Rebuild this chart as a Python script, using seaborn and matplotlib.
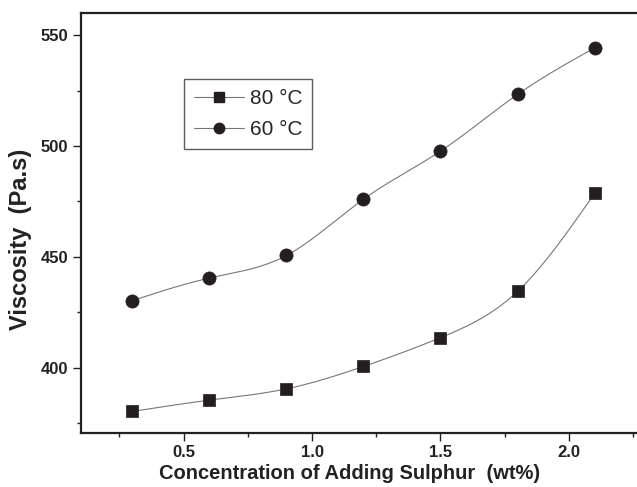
import numpy as np
import pandas as pd
import matplotlib
matplotlib.use("Agg")
import matplotlib.pyplot as plt
import seaborn as sns
from matplotlib.lines import Line2D
from matplotlib.ticker import MultipleLocator

# ---- data ----
conc = [0.3, 0.6, 0.9, 1.2, 1.5, 1.8, 2.1]
visc_80 = [380.2, 385.3, 390.4, 400.5, 413.5, 434.4, 478.6]
visc_60 = [430.2, 440.4, 450.6, 476.0, 497.7, 523.3, 544.3]
labels = ["80 °C", "60 °C"]

def natural_spline(x, y, xs):
    x = np.asarray(x, float); y = np.asarray(y, float)
    n = len(x)
    h = np.diff(x)
    A = np.zeros((n, n)); b = np.zeros(n)
    A[0, 0] = 1; A[-1, -1] = 1
    for i in range(1, n - 1):
        A[i, i - 1] = h[i - 1]
        A[i, i] = 2 * (h[i - 1] + h[i])
        A[i, i + 1] = h[i]
        b[i] = 3 * ((y[i + 1] - y[i]) / h[i] - (y[i] - y[i - 1]) / h[i - 1])
    c = np.linalg.solve(A, b)
    out = np.empty_like(xs)
    for k, xv in enumerate(xs):
        i = min(max(np.searchsorted(x, xv) - 1, 0), n - 2)
        dx = xv - x[i]
        bi = (y[i + 1] - y[i]) / h[i] - h[i] * (2 * c[i] + c[i + 1]) / 3
        di = (c[i + 1] - c[i]) / (3 * h[i])
        out[k] = y[i] + bi * dx + c[i] * dx ** 2 + di * dx ** 3
    return out

sns.set_style("ticks")
plt.rcParams["font.family"] = ["Liberation Sans", "DejaVu Sans"]

fig = plt.figure(figsize=(6.37, 4.87), dpi=100)
ax = fig.add_axes([0.127, 0.111, 0.879, 0.862])

mk_color = "#231f20"
line_color = "#777777"
xs = np.linspace(conc[0], conc[-1], 300)
for vals, mk, ms in [(visc_80, "s", 75), (visc_60, "o", 90)]:
    sns.lineplot(x=xs, y=natural_spline(conc, vals, xs), ax=ax,
                 color=line_color, lw=0.8, zorder=2)
    sns.scatterplot(x=conc, y=vals, ax=ax, marker=mk, s=ms,
                    color=mk_color, edgecolor=mk_color, linewidth=0.5, zorder=3)

ax.set_xlim(0.1, 2.28)
ax.set_ylim(370.5, 560)
ax.xaxis.set_major_locator(MultipleLocator(0.5))
ax.xaxis.set_minor_locator(MultipleLocator(0.25))
ax.yaxis.set_major_locator(MultipleLocator(50))
ax.yaxis.set_minor_locator(MultipleLocator(25))
ax.tick_params(which="major", length=6, width=1, direction="out",
               labelsize=12, color="#222222", pad=3)
ax.tick_params(which="minor", length=3, width=1, direction="out", color="#222222")
ax.tick_params(top=False, right=False, which="both")
for lab in ax.get_xticklabels() + ax.get_yticklabels():
    lab.set_fontweight("bold")
    lab.set_color("#222222")
for sp in ax.spines.values():
    sp.set_linewidth(1.6)
    sp.set_color("#222222")

ax.set_xlabel("Concentration of Adding Sulphur  (wt%)", fontsize=14.5,
              fontweight="bold", color="#222222")
ax.set_ylabel("Viscosity  (Pa.s)", fontsize=17, fontweight="bold",
              color="#222222")
ax.xaxis.set_label_coords(0.479, -0.075)
ax.yaxis.set_label_coords(-0.0875, 0.462)

handles = [
    Line2D([], [], color=line_color, lw=0.8, marker="s", markersize=7,
           markerfacecolor=mk_color, markeredgecolor=mk_color),
    Line2D([], [], color=line_color, lw=0.8, marker="o", markersize=7.5,
           markerfacecolor=mk_color, markeredgecolor=mk_color),
]
leg = ax.legend(handles, labels, loc="upper left",
                bbox_to_anchor=(0.1845, 0.842), fontsize=15,
                frameon=True, fancybox=False, edgecolor="#333333",
                handlelength=2.4, handletextpad=0.3, borderpad=0.45,
                labelspacing=0.6, borderaxespad=0)
leg.get_frame().set_linewidth(1.0)

fig.savefig("out.png", dpi=100)
